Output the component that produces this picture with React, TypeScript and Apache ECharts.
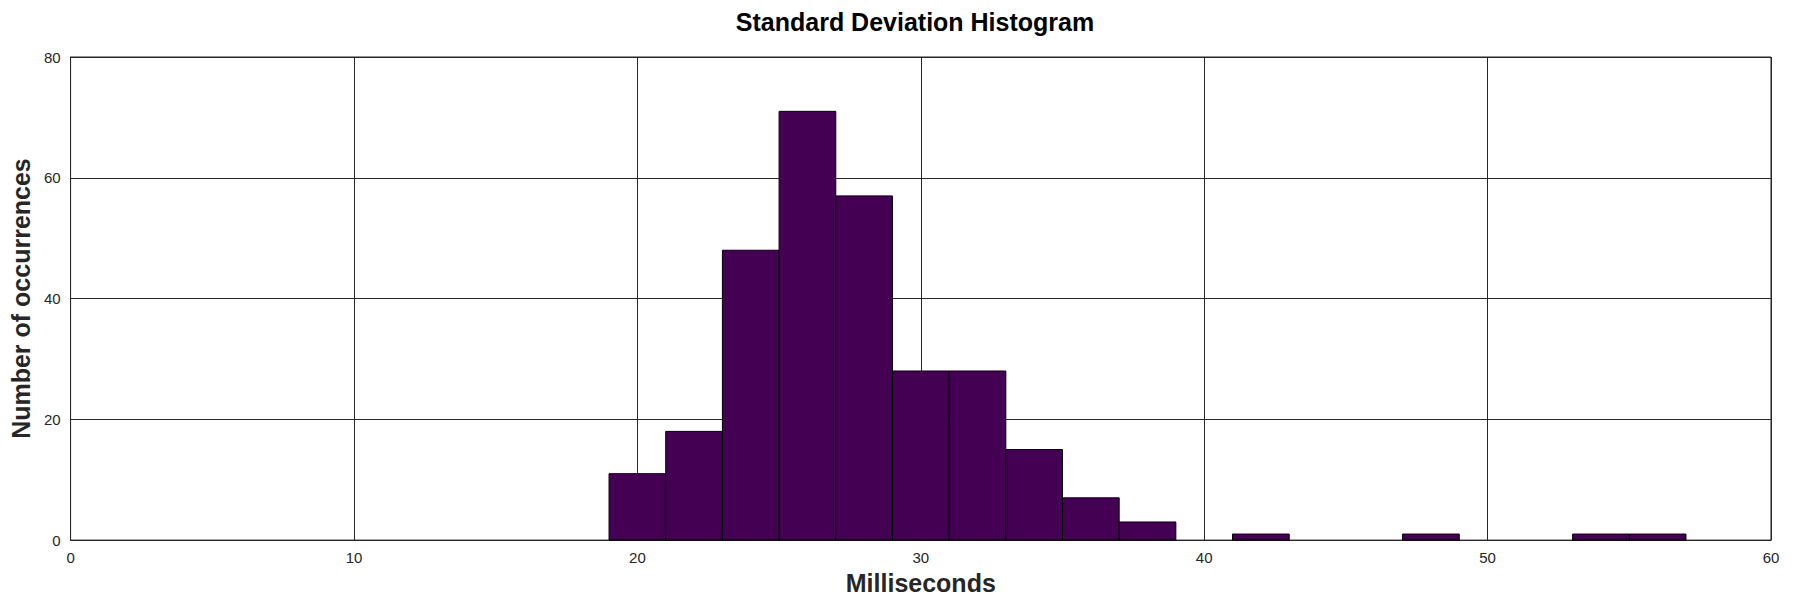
import React, { useEffect, useRef } from "react";
import * as echarts from "echarts";

const chartTitle = "Standard Deviation Histogram";
const xAxisTitle = "Milliseconds";
const yAxisTitle = "Number of occurrences";

const binLeft = [19, 21, 23, 25, 27, 29, 31, 33, 35, 37, 39, 41, 43, 45, 47, 49, 51, 53, 55];
const binRight = [21, 23, 25, 27, 29, 31, 33, 35, 37, 39, 41, 43, 45, 47, 49, 51, 53, 55, 57];
const counts = [11, 18, 48, 71, 57, 28, 28, 15, 7, 3, 0, 1, 0, 0, 1, 0, 0, 1, 1];

const xMin = 0;
const xMax = 60;
const xStep = 10;
const yMin = 0;
const yMax = 80;
const yStep = 20;

const FONT = "'Liberation Sans', Arial, Helvetica, sans-serif";

export default function App() {
  const ref = useRef<HTMLDivElement | null>(null);

  useEffect(() => {
    document.body.style.margin = "0";
    if (!ref.current) return;
    const chart = echarts.init(ref.current, null, { renderer: "svg" });
    const data = binLeft.map((l, i) => [l, binRight[i], counts[i]]);
    chart.setOption({
      animation: false,
      backgroundColor: "#ffffff",
      title: {
        text: chartTitle,
        left: 915,
        textAlign: "center",
        top: 9,
        padding: 0,
        textStyle: { fontFamily: FONT, fontSize: 25, fontWeight: "bold", color: "#000000" },
      },
      grid: {
        left: 59,
        right: 29,
        top: 57,
        bottom: 52,
        show: true,
        borderColor: "#262626",
        borderWidth: 1,
        backgroundColor: "transparent",
      },
      xAxis: {
        type: "value",
        min: xMin,
        max: xMax,
        interval: xStep,
        name: xAxisTitle,
        nameLocation: "middle",
        nameGap: 28,
        nameTextStyle: { fontFamily: FONT, fontSize: 25, fontWeight: "bold", color: "#262626" },
        axisLine: { show: true, lineStyle: { color: "#262626", width: 1 } },
        axisTick: { show: false },
        axisLabel: { fontFamily: FONT, fontSize: 15, color: "#262626", margin: 10 },
        splitLine: { show: true, lineStyle: { color: "#262626", width: 1 } },
      },
      yAxis: {
        type: "value",
        min: yMin,
        max: yMax,
        interval: yStep,
        name: yAxisTitle,
        nameLocation: "middle",
        nameGap: 27,
        nameTextStyle: { fontFamily: FONT, fontSize: 25, fontWeight: "bold", color: "#262626" },
        axisLine: { show: true, lineStyle: { color: "#262626", width: 1 } },
        axisTick: { show: false },
        axisLabel: { fontFamily: FONT, fontSize: 15, color: "#262626", margin: 10 },
        splitLine: { show: true, lineStyle: { color: "#262626", width: 1 } },
      },
      series: [
        {
          type: "custom",
          data,
          encode: { x: [0, 1], y: 2 },
          renderItem: (params: any, api: any) => {
            const c = api.value(2);
            if (!c) return null;
            const p0 = api.coord([api.value(0), c]);
            const p1 = api.coord([api.value(1), 0]);
            return {
              type: "rect",
              shape: { x: p0[0], y: p0[1], width: p1[0] - p0[0], height: p1[1] - p0[1] },
              style: { fill: "#440154", stroke: "#000000", lineWidth: 1 },
            };
          },
        },
      ],
    });
    return () => chart.dispose();
  }, []);

  return (
    <div
      ref={ref}
      style={{ position: "absolute", left: 0, top: 0, width: 1800, height: 600 }}
    />
  );
}
